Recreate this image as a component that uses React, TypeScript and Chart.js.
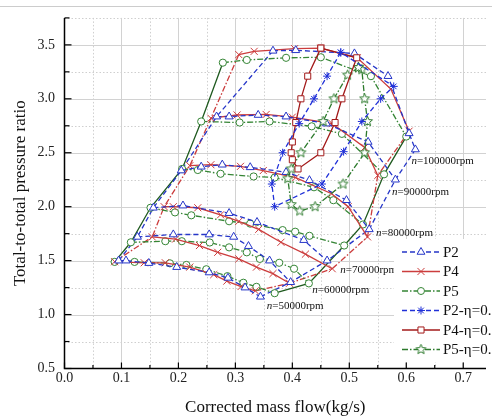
import React, { useEffect, useRef } from 'react';
import { Chart, registerables } from 'chart.js';

Chart.register(...registerables);

type Pt = [number, number];

// ---------- data (corrected mass flow kg/s, total-to-total pressure ratio) ----------
const SPEEDS = ['50000', '60000', '70000', '80000', '90000', '100000'];
const SPEED_LABEL_X = [0.355, 0.435, 0.484, 0.547, 0.575, 0.609];
const SPEED_LABEL_Y = [1.077, 1.223, 1.414, 1.759, 2.132, 2.423];

const X_TICKS = [0, 0.1, 0.2, 0.3, 0.4, 0.5, 0.6, 0.7];
const X_MINOR = [0.05, 0.15, 0.25, 0.35, 0.45, 0.55, 0.65];
const Y_TICKS = [0.5, 1.0, 1.5, 2.0, 2.5, 3.0, 3.5];
const Y_MINOR = [0.75, 1.25, 1.75, 2.25, 2.75, 3.25, 3.75];

const P2_N50: Pt[] = [[0.095, 1.5], [0.108, 1.5], [0.148, 1.477], [0.197, 1.44], [0.254, 1.39], [0.287, 1.34], [0.317, 1.25], [0.344, 1.165]];
const P2_N60: Pt[] = [[0.128, 1.72], [0.191, 1.742], [0.254, 1.742], [0.297, 1.72], [0.323, 1.634], [0.36, 1.5], [0.397, 1.3]];
const P2_N70: Pt[] = [[0.156, 1.99], [0.208, 2.01], [0.289, 1.94], [0.338, 1.857], [0.42, 1.69], [0.461, 1.5]];
const P2_N80: Pt[] = [[0.205, 2.335], [0.24, 2.37], [0.277, 2.389], [0.326, 2.365], [0.389, 2.32], [0.43, 2.245], [0.495, 2.06], [0.535, 1.79]];
const P2_N90: Pt[] = [[0.267, 2.835], [0.289, 2.835], [0.34, 2.85], [0.389, 2.835], [0.46, 2.77], [0.533, 2.6], [0.581, 2.25]];
const P2_N100: Pt[] = [[0.366, 3.445], [0.406, 3.45], [0.509, 3.42], [0.568, 3.21], [0.605, 2.68], [0.616, 2.53]];

const P4_N50: Pt[] = [[0.088, 1.49], [0.14, 1.48], [0.177, 1.48], [0.22, 1.44], [0.262, 1.37], [0.285, 1.31], [0.31, 1.26], [0.335, 1.22]];
const P4_N60: Pt[] = [[0.154, 1.72], [0.195, 1.7], [0.237, 1.64], [0.269, 1.577], [0.306, 1.516], [0.337, 1.44], [0.366, 1.38], [0.395, 1.29]];
const P4_N70: Pt[] = [[0.175, 2.0], [0.191, 2.0], [0.234, 1.99], [0.274, 1.925], [0.306, 1.864], [0.341, 1.79], [0.38, 1.67], [0.423, 1.56], [0.47, 1.425]];
const P4_N80: Pt[] = [[0.22, 2.38], [0.257, 2.389], [0.309, 2.374], [0.349, 2.335], [0.406, 2.27], [0.469, 2.12], [0.498, 2.0], [0.532, 1.72]];
const P4_N90: Pt[] = [[0.257, 2.82], [0.303, 2.85], [0.354, 2.855], [0.4, 2.83], [0.47, 2.77], [0.527, 2.55], [0.55, 2.29]];
const P4_N100: Pt[] = [[0.306, 3.41], [0.333, 3.44], [0.404, 3.465], [0.45, 3.47], [0.514, 3.38], [0.573, 3.09], [0.605, 2.7]];

const P5_N50: Pt[] = [[0.088, 1.488], [0.123, 1.488], [0.185, 1.475], [0.214, 1.46], [0.249, 1.42], [0.286, 1.356], [0.314, 1.295], [0.337, 1.257], [0.369, 1.198]];
const P5_N60: Pt[] = [[0.1165, 1.67], [0.177, 1.68], [0.206, 1.68], [0.255, 1.668], [0.289, 1.623], [0.32, 1.577], [0.343, 1.516], [0.377, 1.48], [0.403, 1.425], [0.429, 1.289]];
const P5_N70: Pt[] = [[0.151, 1.99], [0.194, 1.947], [0.2226, 1.92], [0.289, 1.865], [0.326, 1.843], [0.383, 1.783], [0.405, 1.768], [0.43, 1.73], [0.491, 1.64]];
const P5_N80: Pt[] = [[0.2065, 2.35], [0.234, 2.34], [0.274, 2.305], [0.332, 2.28], [0.369, 2.27], [0.438, 2.18], [0.472, 2.06], [0.524, 1.835]];
const P5_N90: Pt[] = [[0.24, 2.79], [0.3075, 2.78], [0.36, 2.79], [0.434, 2.745], [0.487, 2.675], [0.561, 2.3]];
const P5_N100: Pt[] = [[0.278, 3.335], [0.32, 3.36], [0.389, 3.38], [0.45, 3.385], [0.538, 3.21], [0.6, 2.65]];

const P2_ETA: Pt[] = [[0.485, 3.43], [0.461, 3.21], [0.438, 3.0], [0.412, 2.77], [0.383, 2.5], [0.364, 2.21], [0.369, 2.0], [0.452, 2.21], [0.49, 2.51], [0.522, 2.79], [0.555, 3.0], [0.578, 3.115], [0.485, 3.43]];
const P4_ETA: Pt[] = [[0.45, 3.47], [0.427, 3.21], [0.415, 3.0], [0.406, 2.78], [0.4, 2.6], [0.398, 2.5], [0.4, 2.435], [0.41, 2.35], [0.45, 2.5], [0.475, 2.78], [0.487, 3.0], [0.513, 3.38], [0.45, 3.47]];
const P5_ETA: Pt[] = [[0.516, 3.29], [0.497, 3.22], [0.473, 3.0], [0.454, 2.79], [0.415, 2.5], [0.398, 2.35], [0.392, 2.26], [0.398, 2.02], [0.413, 1.96], [0.44, 2.0], [0.489, 2.21], [0.527, 2.5], [0.532, 2.79], [0.527, 3.0], [0.522, 3.27], [0.516, 3.29]];

const P2_LINES = [P2_N50, P2_N60, P2_N70, P2_N80, P2_N90, P2_N100];
const P4_LINES = [P4_N50, P4_N60, P4_N70, P4_N80, P4_N90, P4_N100];
const P5_LINES = [P5_N50, P5_N60, P5_N70, P5_N80, P5_N90, P5_N100];

// ---------- styles ----------
const FONT = "'Liberation Serif', 'Times New Roman', serif";
const BLUE = '#2636c8';
const RED = '#cc3d3d';
const GREEN = '#358535';
const DGREEN = '#1f5a1f';
const BLUE2 = '#2030d8';
const DRED = '#a31a1a';
const GREEN2 = '#2c7a2c';
const DASH = [5, 3];
const DASHDOT = [6, 2, 1.5, 2];
const LW = 1.3;

function makeStar(color: string): HTMLCanvasElement {
  const c = document.createElement('canvas');
  const s = 13;
  c.width = s;
  c.height = s;
  const g = c.getContext('2d')!;
  g.beginPath();
  for (let i = 0; i < 10; i++) {
    const r = i % 2 === 0 ? 5.2 : 2.3;
    const a = -Math.PI / 2 + (i * Math.PI) / 5;
    const px = s / 2 + r * Math.cos(a);
    const py = s / 2 + r * Math.sin(a);
    if (i === 0) g.moveTo(px, py);
    else g.lineTo(px, py);
  }
  g.closePath();
  g.fillStyle = '#fff';
  g.fill();
  g.strokeStyle = color;
  g.lineWidth = 1;
  g.stroke();
  return c;
}

function withBreaks(lines: Pt[][]) {
  const out: { x: number; y: number }[] = [];
  lines.forEach((l, i) => {
    if (i > 0) out.push({ x: NaN, y: NaN });
    l.forEach(([x, y]) => out.push({ x, y }));
  });
  return out;
}

function mk(label: string, data: any[], color: string, dash: number[], pointStyle: any, radius: number, width = LW) {
  return {
    label,
    data,
    showLine: true,
    borderColor: color,
    borderWidth: width,
    borderDash: dash,
    pointStyle,
    pointRadius: radius,
    pointHoverRadius: radius,
    pointBorderColor: color,
    pointBackgroundColor: '#fff',
    pointBorderWidth: 1,
    fill: false,
    tension: 0,
    spanGaps: false,
  };
}

function drawMarker(ctx: CanvasRenderingContext2D, style: any, x: number, y: number, r: number, color: string) {
  ctx.save();
  ctx.setLineDash([]);
  ctx.strokeStyle = color;
  ctx.fillStyle = '#fff';
  ctx.lineWidth = 1;
  ctx.beginPath();
  if (style === 'triangle') {
    ctx.moveTo(x, y - r);
    ctx.lineTo(x + r * 0.866, y + r * 0.5);
    ctx.lineTo(x - r * 0.866, y + r * 0.5);
    ctx.closePath();
    ctx.fill();
    ctx.stroke();
  } else if (style === 'circle') {
    ctx.arc(x, y, r, 0, Math.PI * 2);
    ctx.fill();
    ctx.stroke();
  } else if (style === 'rect') {
    const s = r * Math.SQRT1_2;
    ctx.rect(x - s, y - s, 2 * s, 2 * s);
    ctx.fill();
    ctx.stroke();
  } else if (style === 'crossRot') {
    const s = r * Math.SQRT1_2;
    ctx.moveTo(x - s, y - s);
    ctx.lineTo(x + s, y + s);
    ctx.moveTo(x + s, y - s);
    ctx.lineTo(x - s, y + s);
    ctx.stroke();
  } else if (style === 'star') {
    const s = r * Math.SQRT1_2;
    ctx.moveTo(x - s, y - s);
    ctx.lineTo(x + s, y + s);
    ctx.moveTo(x + s, y - s);
    ctx.lineTo(x - s, y + s);
    ctx.moveTo(x, y - r);
    ctx.lineTo(x, y + r);
    ctx.moveTo(x - r, y);
    ctx.lineTo(x + r, y);
    ctx.stroke();
  } else if (style instanceof HTMLCanvasElement) {
    ctx.drawImage(style, x - style.width / 2, y - style.height / 2);
  }
  ctx.restore();
}

export default function App() {
  const ref = useRef<HTMLCanvasElement | null>(null);

  useEffect(() => {
    if (!ref.current) return;
    const star5 = makeStar(GREEN2);

    const surge = (lines: Pt[][]) => lines.map((l) => ({ x: l[0][0], y: l[0][1] }));
    const choke = (lines: Pt[][]) => lines.map((l) => ({ x: l[l.length - 1][0], y: l[l.length - 1][1] }));

    const legendItems = [
      { text: 'P2', color: BLUE, dash: DASH, style: 'triangle', r: 4.5 },
      { text: 'P4', color: RED, dash: [], style: 'crossRot', r: 5 },
      { text: 'P5', color: GREEN, dash: DASHDOT, style: 'circle', r: 3.5 },
      { text: 'P2-η=0.', color: BLUE2, dash: DASH, style: 'star', r: 4 },
      { text: 'P4-η=0.', color: DRED, dash: [], style: 'rect', r: 4.3 },
      { text: 'P5-η=0.', color: GREEN2, dash: DASHDOT, style: star5, r: 5 },
    ];

    const datasets: any[] = [
      mk('P2-η=0.', P2_ETA.map(([x, y]) => ({ x, y })), BLUE2, DASH, 'star', 4),
      mk('P4-η=0.', P4_ETA.map(([x, y]) => ({ x, y })), DRED, [], 'rect', 4.3),
      mk('P5-η=0.', P5_ETA.map(([x, y]) => ({ x, y })), GREEN2, DASHDOT, star5, 5),
      mk('P2', withBreaks(P2_LINES), BLUE, DASH, 'triangle', 4.6),
      mk('P4', withBreaks(P4_LINES), RED, [], 'crossRot', 5),
      mk('P5', withBreaks(P5_LINES), GREEN, DASHDOT, 'circle', 3.6),
      mk('P2 surge', surge(P2_LINES), BLUE, DASH, 'circle', 0),
      mk('P4 surge', surge(P4_LINES), RED, DASHDOT, 'circle', 0),
      mk('P5 surge', surge(P5_LINES), DGREEN, [], 'circle', 0),
      mk('P2 choke', choke(P2_LINES), BLUE, DASH, 'circle', 0),
      mk('P4 choke', choke(P4_LINES), RED, DASHDOT, 'circle', 0),
      mk('P5 choke', choke(P5_LINES), DGREEN, [], 'circle', 0),
    ];

    const gridPlugin = {
      id: 'customGrid',
      beforeDatasetsDraw(chart: any) {
        const { ctx, chartArea: a, scales } = chart;
        const xs = scales.x;
        const ys = scales.y;
        ctx.save();
        ctx.strokeStyle = '#cccccc';
        ctx.lineWidth = 1;
        ctx.beginPath();
        ctx.moveTo(0, 6.5);
        ctx.lineTo(chart.width, 6.5);
        ctx.stroke();
        ctx.strokeStyle = '#cfcfcf';
        ctx.setLineDash([1.5, 2]);
        X_MINOR.forEach((v) => {
          const p = Math.round(xs.getPixelForValue(v)) + 0.5;
          ctx.beginPath();
          ctx.moveTo(p, a.top);
          ctx.lineTo(p, a.bottom);
          ctx.stroke();
        });
        Y_MINOR.forEach((v) => {
          const p = Math.round(ys.getPixelForValue(v)) + 0.5;
          ctx.beginPath();
          ctx.moveTo(a.left, p);
          ctx.lineTo(a.right, p);
          ctx.stroke();
        });
        ctx.setLineDash([]);
        ctx.strokeStyle = '#d2d2d2';
        X_TICKS.slice(1).forEach((v) => {
          const p = Math.round(xs.getPixelForValue(v)) + 0.5;
          ctx.beginPath();
          ctx.moveTo(p, a.top);
          ctx.lineTo(p, a.bottom);
          ctx.stroke();
        });
        Y_TICKS.slice(1).forEach((v) => {
          const p = Math.round(ys.getPixelForValue(v)) + 0.5;
          ctx.beginPath();
          ctx.moveTo(a.left, p);
          ctx.lineTo(a.right, p);
          ctx.stroke();
        });
        ctx.restore();
      },
      afterDatasetsDraw(chart: any) {
        const { ctx, chartArea: a, scales } = chart;
        const xs = scales.x;
        const ys = scales.y;
        ctx.save();
        ctx.strokeStyle = '#000';
        ctx.lineWidth = 1.5;
        ctx.setLineDash([]);
        ctx.beginPath();
        ctx.moveTo(a.left, a.top);
        ctx.lineTo(a.left, a.bottom);
        ctx.lineTo(a.right, a.bottom);
        ctx.stroke();
        ctx.lineWidth = 1.2;
        X_TICKS.forEach((v) => {
          const p = xs.getPixelForValue(v);
          ctx.beginPath();
          ctx.moveTo(p, a.bottom);
          ctx.lineTo(p, a.bottom - 6);
          ctx.stroke();
        });
        X_MINOR.forEach((v) => {
          const p = xs.getPixelForValue(v);
          ctx.beginPath();
          ctx.moveTo(p, a.bottom);
          ctx.lineTo(p, a.bottom - 3.5);
          ctx.stroke();
        });
        Y_TICKS.forEach((v) => {
          const p = ys.getPixelForValue(v);
          ctx.beginPath();
          ctx.moveTo(a.left, p);
          ctx.lineTo(a.left + 7, p);
          ctx.stroke();
        });
        Y_MINOR.forEach((v) => {
          const p = ys.getPixelForValue(v);
          ctx.beginPath();
          ctx.moveTo(a.left, p);
          ctx.lineTo(a.left + 5, p);
          ctx.stroke();
        });
        ctx.fillStyle = '#111';
        ctx.textBaseline = 'middle';
        ctx.textAlign = 'left';
        SPEEDS.forEach((s, i) => {
          const px = xs.getPixelForValue(SPEED_LABEL_X[i]);
          const py = ys.getPixelForValue(SPEED_LABEL_Y[i]);
          ctx.font = `italic 11px ${FONT}`;
          ctx.fillText('n', px, py);
          const w = ctx.measureText('n').width;
          ctx.font = `11px ${FONT}`;
          ctx.fillText(`=${s}rpm`, px + w, py);
        });
        const lx = 394;
        const ly = 239;
        ctx.fillStyle = '#fff';
        ctx.fillRect(lx, ly, chart.width - lx, 123);
        legendItems.forEach((it, i) => {
          const y = 252 + i * 19.5;
          ctx.strokeStyle = it.color;
          ctx.lineWidth = LW;
          ctx.setLineDash(it.dash);
          ctx.beginPath();
          ctx.moveTo(402, y);
          ctx.lineTo(440, y);
          ctx.stroke();
          ctx.setLineDash([]);
          drawMarker(ctx, it.style, 421, y, it.r, it.color);
          ctx.fillStyle = '#111';
          ctx.font = `15px ${FONT}`;
          ctx.textBaseline = 'middle';
          ctx.fillText(it.text, 443, y + 1);
        });
        ctx.restore();
      },
    };

    const chart = new Chart(ref.current, {
      type: 'scatter',
      data: { datasets },
      options: {
        animation: false,
        responsive: false,
        devicePixelRatio: 1,
        events: [],
        layout: { padding: { top: 10.5, right: 0, left: 0, bottom: 0 } },
        plugins: { legend: { display: false }, tooltip: { enabled: false } },
        scales: {
          x: {
            type: 'linear',
            min: 0,
            max: 0.74,
            grid: { display: false, drawTicks: false },
            border: { display: false },
            ticks: {
              stepSize: 0.1,
              autoSkip: false,
              maxRotation: 0,
              padding: 1.5,
              color: '#222',
              font: { family: FONT, size: 14 },
              callback: (v: any) => Number(v).toFixed(1),
            },
            afterBuildTicks: (s: any) => {
              s.ticks = X_TICKS.map((v) => ({ value: v }));
            },
            afterFit: (s: any) => {
              s.height = 50.5;
            },
            title: {
              display: true,
              text: 'Corrected mass flow(kg/s)',
              color: '#111',
              font: { family: FONT, size: 17 },
              padding: { top: 0, bottom: 1 },
            },
          },
          y: {
            type: 'linear',
            min: 0.5,
            max: 3.75,
            grid: { display: false, drawTicks: false },
            border: { display: false },
            ticks: {
              stepSize: 0.5,
              autoSkip: false,
              padding: 9.5,
              color: '#222',
              font: { family: FONT, size: 14 },
              callback: (v: any) => Number(v).toFixed(1),
            },
            afterBuildTicks: (s: any) => {
              s.ticks = Y_TICKS.map((v) => ({ value: v }));
            },
            afterFit: (s: any) => {
              s.width = 64.5;
            },
            title: {
              display: true,
              text: 'Total-to-total pressure ratio',
              color: '#111',
              font: { family: FONT, size: 17 },
              padding: { top: 10, bottom: 0 },
            },
          },
        },
      },
      plugins: [gridPlugin],
    } as any);

    return () => chart.destroy();
  }, []);

  return (
    <div style={{ position: 'fixed', left: 0, top: 0, width: 492, height: 419, background: '#fff' }}>
      <canvas ref={ref} width={492} height={419} style={{ display: 'block', width: 492, height: 419 }} />
    </div>
  );
}
